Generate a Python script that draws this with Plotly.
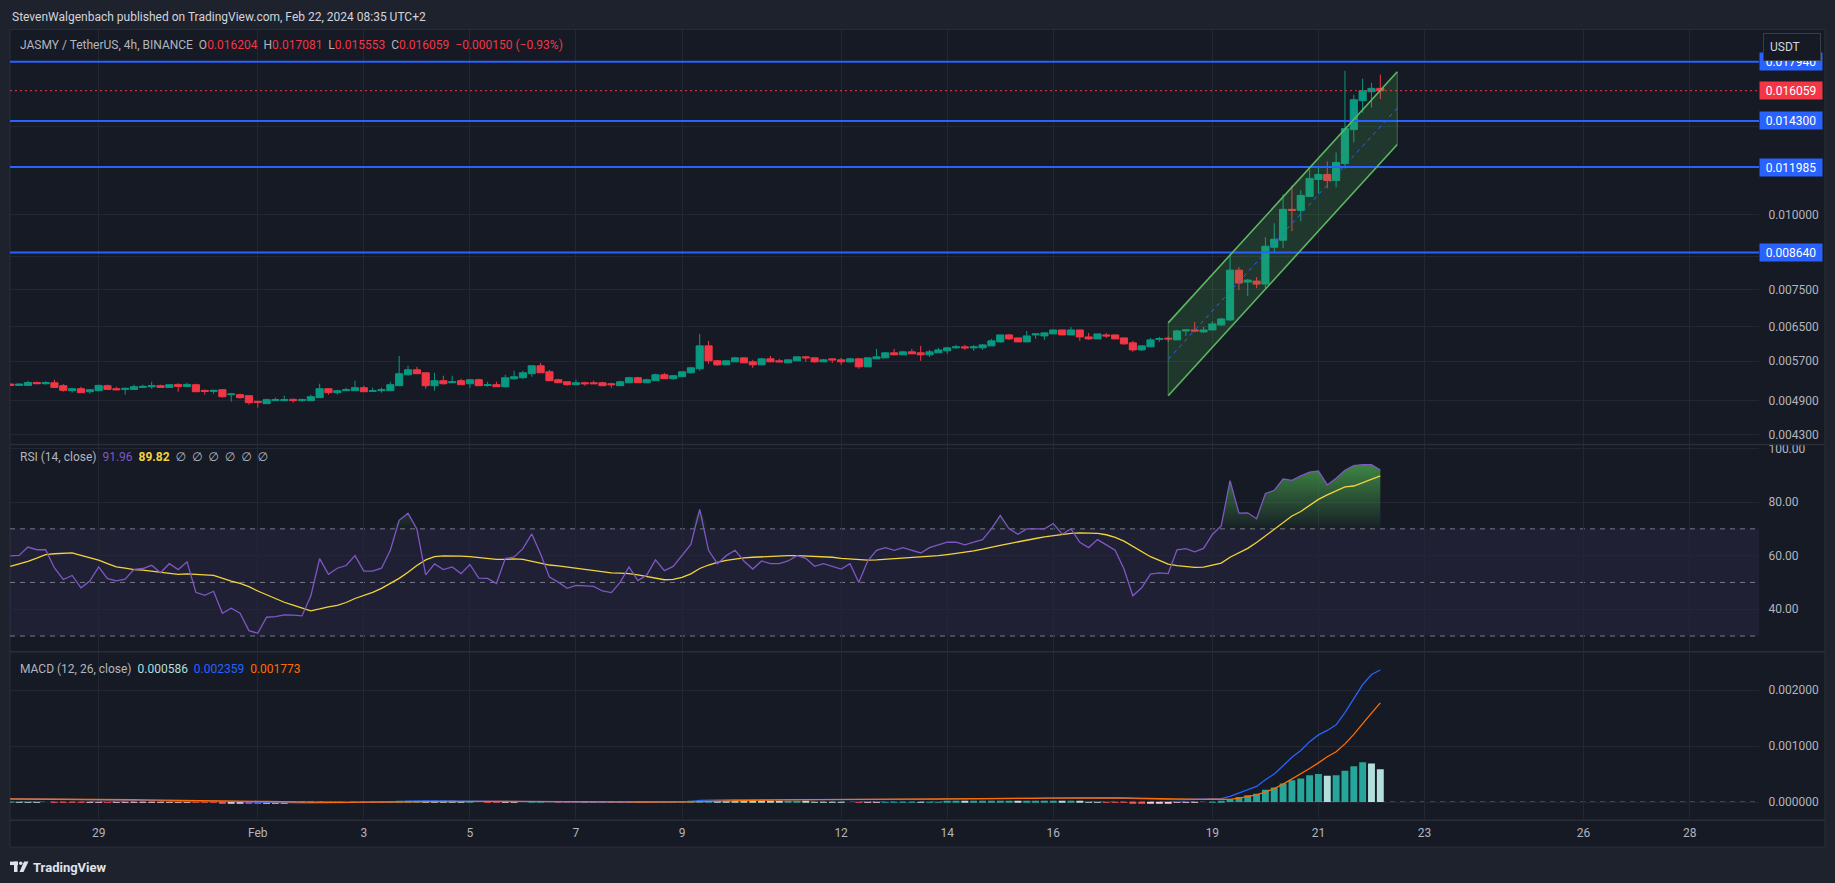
import numpy as np
import pandas as pd
import plotly.graph_objects as go

W, H = 1835, 883
FONT = "Roboto, 'Noto Sans', 'DejaVu Sans', sans-serif"
BG = "#161a25"
FRAME = "#1e222d"
GRID = "#232734"
TXT = "#b2b5be"
UP, DN = "#089981", "#f23645"

# ---------------- data ----------------
times = pd.date_range("2024-01-27 08:00", periods=156, freq="4h")

# prices in thousandths of a USDT
open_m = [5.219,5.192,5.192,5.251,5.225,5.245,5.186,5.088,5.127,5.068,
          5.088,5.186,5.127,5.113,5.113,5.152,5.166,5.186,5.152,5.212,
          5.172,5.206,5.094,5.074,5.107,5.011,5.011,4.992,4.884,4.841,
          4.897,4.897,4.922,4.897,4.897,4.954,5.127,5.049,5.088,5.088,
          5.146,5.074,5.088,5.088,5.186,5.408,5.512,5.449,5.186,5.286,
          5.245,5.286,5.225,5.306,5.192,5.206,5.166,5.326,5.347,5.429,
          5.597,5.470,5.306,5.265,5.206,5.245,5.245,5.245,5.225,5.186,
          5.245,5.347,5.245,5.286,5.408,5.326,5.367,5.449,5.533,6.041,
          5.705,5.618,5.683,5.770,5.683,5.618,5.748,5.705,5.661,5.705,
          5.792,5.770,5.683,5.748,5.726,5.683,5.748,5.575,5.748,5.770,
          5.882,5.837,5.904,5.882,5.837,5.882,5.927,5.995,6.018,5.995,
          5.995,6.041,6.134,6.300,6.228,6.134,6.300,6.276,6.325,6.421,
          6.300,6.421,6.252,6.205,6.300,6.300,6.228,6.111,5.949,6.018,
          6.193,6.220,6.181,6.397,6.421,6.373,6.421,6.546,6.671,8.075,
          7.713,7.743,7.655,8.816,9.055,10.193,10.154,10.711,11.430,11.650,
          11.386,12.150,13.834,15.454,15.995,16.204]
high_m = [5.225,5.231,5.286,5.265,5.272,5.306,5.219,5.146,5.166,5.121,
          5.206,5.206,5.166,5.146,5.206,5.206,5.265,5.206,5.206,5.231,
          5.245,5.225,5.107,5.107,5.107,5.036,5.030,4.992,4.897,4.935,
          4.954,4.992,4.935,4.935,5.011,5.225,5.127,5.107,5.146,5.286,
          5.186,5.146,5.146,5.265,5.814,5.597,5.575,5.449,5.449,5.388,
          5.388,5.326,5.306,5.326,5.265,5.265,5.408,5.491,5.491,5.597,
          5.661,5.512,5.326,5.265,5.306,5.265,5.286,5.265,5.245,5.286,
          5.367,5.367,5.326,5.429,5.449,5.408,5.470,5.575,6.325,6.158,
          5.726,5.705,5.792,5.770,5.726,5.770,5.814,5.748,5.726,5.792,
          5.814,5.770,5.748,5.748,5.770,5.770,5.770,5.770,5.972,5.904,
          5.972,5.927,5.972,6.041,5.949,5.995,6.018,6.064,6.064,6.064,
          6.088,6.205,6.300,6.325,6.228,6.397,6.325,6.373,6.421,6.421,
          6.495,6.421,6.349,6.325,6.349,6.300,6.228,6.158,6.041,6.228,
          6.252,6.258,6.421,6.421,6.621,6.495,6.646,6.722,8.518,8.168,
          7.802,7.862,9.159,9.662,10.794,11.171,10.960,11.875,11.966,12.243,
          12.671,17.330,15.813,16.809,16.554,17.081]
low_m = [5.186,5.186,5.192,5.219,5.206,5.152,5.068,5.049,5.049,5.030,
         5.074,5.113,5.094,5.011,5.113,5.152,5.127,5.152,5.152,5.068,
         5.172,5.068,5.011,5.030,4.954,4.878,4.935,4.823,4.768,4.841,
         4.897,4.897,4.860,4.878,4.897,4.954,5.011,5.011,5.088,5.088,
         5.068,5.068,5.049,5.088,5.186,5.388,5.429,5.127,5.088,5.206,
         5.245,5.206,5.146,5.186,5.166,5.166,5.146,5.306,5.326,5.367,
         5.449,5.286,5.245,5.186,5.206,5.186,5.225,5.186,5.146,5.186,
         5.245,5.245,5.245,5.286,5.326,5.306,5.367,5.429,5.491,5.640,
         5.597,5.618,5.683,5.661,5.554,5.618,5.683,5.683,5.661,5.705,
         5.683,5.661,5.683,5.661,5.618,5.661,5.533,5.575,5.748,5.770,
         5.837,5.837,5.859,5.705,5.792,5.882,5.859,5.972,5.949,5.927,
         5.949,6.041,6.111,6.181,6.134,6.134,6.205,6.181,6.325,6.300,
         6.300,6.158,6.181,6.205,6.228,6.205,6.064,5.904,5.927,6.018,
         6.134,6.140,6.181,6.276,6.373,6.349,6.421,6.521,6.646,7.481,
         7.312,7.538,7.538,8.649,8.782,9.371,9.736,10.711,10.835,11.044,
         11.086,11.920,13.165,14.762,15.047,15.553]
close_m = [5.192,5.219,5.251,5.225,5.251,5.152,5.094,5.127,5.049,5.107,
           5.192,5.113,5.107,5.133,5.166,5.172,5.186,5.152,5.206,5.172,
           5.212,5.068,5.074,5.094,4.972,5.024,4.954,4.860,4.865,4.916,
           4.916,4.916,4.897,4.916,4.972,5.127,5.049,5.088,5.107,5.146,
           5.068,5.088,5.107,5.206,5.429,5.512,5.429,5.186,5.286,5.225,
           5.265,5.206,5.306,5.186,5.206,5.166,5.347,5.367,5.449,5.597,
           5.449,5.286,5.245,5.206,5.245,5.225,5.225,5.186,5.206,5.265,
           5.347,5.245,5.306,5.408,5.326,5.388,5.470,5.554,6.041,5.705,
           5.618,5.705,5.770,5.661,5.618,5.748,5.683,5.683,5.726,5.792,
           5.770,5.683,5.726,5.726,5.683,5.748,5.575,5.770,5.792,5.882,
           5.837,5.904,5.859,5.837,5.904,5.949,5.995,6.018,5.995,6.018,
           6.064,6.158,6.300,6.205,6.134,6.276,6.325,6.349,6.421,6.300,
           6.421,6.252,6.205,6.325,6.276,6.205,6.088,5.949,6.041,6.181,
           6.212,6.205,6.397,6.421,6.397,6.421,6.571,6.697,8.075,7.684,
           7.772,7.655,8.850,9.090,10.193,10.154,10.752,11.474,11.650,11.386,
           12.197,13.887,15.513,16.056,16.204,16.059]

rsi = [59.9,60.1,63.2,62.2,62.2,55.4,51.1,52.6,48.0,50.5,
       55.8,51.4,50.6,51.2,54.9,55.2,56.4,53.6,57.0,54.8,
       57.7,46.3,45.2,46.7,38.5,40.4,38.5,32.0,31.0,37.0,
       37.2,37.9,37.8,37.5,44.9,58.9,53.0,55.3,56.3,60.0,
       54.2,54.2,55.3,62.0,73.2,75.8,70.0,52.8,56.9,54.8,
       55.8,53.3,56.7,51.6,51.5,49.6,58.9,59.5,62.6,68.1,
       60.6,52.0,50.1,47.8,48.9,48.8,48.5,46.8,46.2,50.0,
       55.8,50.7,52.7,58.4,54.4,56.0,60.1,64.2,77.3,62.0,
       57.0,60.0,62.0,58.0,55.0,58.0,57.0,57.0,58.0,60.0,
       59.0,56.0,57.0,56.0,55.0,57.0,50.0,58.0,62.0,63.0,
       62.0,63.0,62.0,61.0,63.0,64.0,65.0,65.0,64.0,65.0,
       66.0,70.0,75.0,70.0,68.0,70.0,70.0,70.0,72.0,68.0,
       70.0,65.0,63.0,66.0,64.0,62.0,55.0,45.0,48.0,53.1,
       53.6,53.3,62.2,62.6,61.4,62.7,67.9,71.1,88.0,75.9,
       76.0,73.8,83.2,84.4,88.6,88.1,89.8,91.2,91.6,86.4,
       88.9,91.9,93.6,94.0,94.0,91.96]
rsi_ma = [56.0,56.9,57.9,59.1,60.4,60.7,60.9,61.0,60.1,59.1,
          58.3,57.0,55.8,55.3,54.8,54.6,54.2,53.6,53.2,53.0,
          53.2,53.1,52.8,52.6,51.5,50.5,49.6,48.4,46.8,45.3,
          43.8,42.6,41.5,40.4,39.4,40.1,40.9,41.4,42.5,44.0,
          45.1,46.3,47.8,49.5,51.5,53.8,56.3,58.4,59.6,59.9,
          59.9,59.8,59.6,59.3,58.9,58.6,58.6,58.8,58.6,57.9,
          57.2,56.5,56.2,55.8,55.4,54.9,54.4,54.0,53.6,53.5,
          53.3,52.8,52.2,51.7,51.0,51.1,51.9,53.2,55.2,56.5,
          57.5,58.2,58.8,59.2,59.4,59.6,59.8,60.0,60.0,60.0,
          59.9,59.8,59.6,59.4,59.0,58.8,58.4,58.3,58.4,58.6,
          58.8,59.0,59.2,59.4,59.7,60.0,60.4,60.8,61.2,61.8,
          62.4,63.0,63.8,64.5,65.2,65.8,66.4,67.0,67.5,68.0,
          68.3,68.5,68.5,68.3,67.8,66.8,65.4,63.5,61.5,59.6,
          58.2,56.8,56.3,56.0,55.6,55.7,56.5,57.2,59.4,60.9,
          62.7,64.9,67.4,69.9,72.6,74.8,76.5,78.8,81.0,82.7,
          84.3,85.7,86.0,87.3,88.5,89.82]

# MACD values in millionths of a USDT
macd_u = [60,58,57,56,55,52,48,45,42,40,
          40,38,36,34,33,32,32,31,31,31,
          31,26,22,19,14,11,8,3,-2,-5,
          -8,-10,-12,-14,-14,-10,-9,-8,-7,-5,
          -5,-4,-4,-2,8,18,24,22,22,21,
          20,18,18,15,13,10,11,12,14,19,
          19,15,11,7,5,3,1,-1,-3,-3,
          -1,-2,-1,1,1,2,5,9,30,36,
          38,40,43,44,44,45,45,45,46,47,
          47,46,45,44,43,42,38,38,39,42,
          44,46,47,47,48,50,52,54,55,56,
          58,62,68,71,72,75,77,80,83,84,
          86,84,82,80,77,73,66,56,50,48,
          46,44,45,46,47,50,56,62,100,160,
          220,280,400,500,650,800,920,1080,1200,1280,
          1380,1600,1850,2100,2280,2359]
signal_u = [55,55,55,55,55,55,54,53,52,50,
            48,47,45,43,42,40,39,38,37,36,
            35,34,33,31,28,25,22,18,14,10,
            6,3,0,-3,-5,-6,-7,-7,-7,-7,
            -7,-6,-6,-5,-2,2,6,9,11,13,
            14,15,15,15,15,14,14,14,14,15,
            15,15,14,13,12,10,8,6,4,3,
            2,1,0,0,0,1,1,2,8,13,
            18,22,26,30,32,34,36,38,39,40,
            41,42,42,42,42,42,41,41,40,40,
            41,41,42,43,44,45,46,47,49,50,
            52,54,57,60,62,65,67,70,72,75,
            77,78,79,79,79,78,76,72,68,64,
            60,57,54,52,50,50,51,53,50,70,
            100,130,180,240,320,410,500,600,700,810,
            900,1040,1210,1390,1590,1773]
hist_u = [5,3,2,1,0,-3,-6,-8,-10,-10,
          -8,-9,-9,-9,-9,-8,-7,-7,-6,-5,
          -4,-8,-11,-12,-14,-14,-14,-15,-16,-15,
          -14,-13,-12,-11,-9,-4,-2,-1,0,2,
          2,2,2,3,10,16,18,13,11,8,
          6,3,3,0,-2,-4,-3,-2,0,4,
          4,0,-3,-6,-7,-7,-7,-7,-7,-6,
          -3,-3,-1,1,1,1,4,7,22,23,
          20,18,17,14,12,11,9,7,7,7,
          6,4,3,2,1,0,-3,-3,-1,2,
          3,5,5,4,4,5,6,7,6,6,
          6,8,11,11,10,10,10,10,11,9,
          9,6,3,1,-2,-5,-10,-16,-18,-16,
          -14,-13,-9,-6,-3,0,5,9,50,90,
          120,150,220,260,330,390,420,480,500,470,
          480,560,640,710,690,586]

levels = [0.017940, 0.014300, 0.011985, 0.008640]
last_close = 0.016059
chan_t = ["2024-02-18 04:00", "2024-02-22 11:40"]
chan_upper = [0.006597, 0.017264]
chan_lower = [0.004991, 0.013064]
chan_mid = [0.005738, 0.015018]

price_ticks = [0.0043, 0.0049, 0.0057, 0.0065, 0.0075, 0.0085, 0.0100, 0.0140]
price_labels = ["0.004300", "0.004900", "0.005700", "0.006500", "0.007500", "", "0.010000", ""]
rsi_ticks = [40, 60, 80, 100]
macd_ticks = [0.0, 0.001, 0.002]
date_ticks = ["2024-01-29", "2024-02-01", "2024-02-03", "2024-02-05", "2024-02-07",
              "2024-02-09", "2024-02-12", "2024-02-14", "2024-02-16", "2024-02-19",
              "2024-02-21", "2024-02-23", "2024-02-26", "2024-02-28"]
date_text = ["29", "Feb", "3", "5", "7", "9", "12", "14", "16", "19", "21", "23", "26", "28"]

# ---------------- derived ----------------
o = np.array(open_m) / 1000
h = np.array(high_m) / 1000
l = np.array(low_m) / 1000
c = np.array(close_m) / 1000
macd = np.array(macd_u) / 1e6
signal = np.array(signal_u) / 1e6
hist = np.array(hist_u) / 1e6
rsi_arr = np.array(rsi)

hist_col = []
for i, v in enumerate(hist):
    prev = hist[i - 1] if i else v
    if v >= 0:
        hist_col.append("#26a69a" if v >= prev else "#b2dfdb")
    else:
        hist_col.append("#ffcdd2" if v >= prev else "#ff5252")

def px(x):
    return x / W

def py(y):
    return 1 - y / H

X_RANGE = ["2024-01-27 07:53", "2024-02-29 07:22"]
XDOM = [px(10), px(1759)]

fig = go.Figure()

# channel fill
fig.add_trace(go.Scatter(
    x=[chan_t[0], chan_t[1], chan_t[1], chan_t[0], chan_t[0]],
    y=[chan_upper[0], chan_upper[1], chan_lower[1], chan_lower[0], chan_upper[0]],
    fill="toself", fillcolor="rgba(76,175,80,0.2)", mode="lines",
    line=dict(color="rgba(0,0,0,0)", width=0), xaxis="x", yaxis="y", hoverinfo="skip"))

# horizontal levels
for v in levels:
    fig.add_trace(go.Scatter(x=X_RANGE, y=[v, v], mode="lines",
                             line=dict(color="#2962ff", width=2), xaxis="x", yaxis="y",
                             hoverinfo="skip"))
fig.add_trace(go.Scatter(x=X_RANGE, y=[last_close, last_close], mode="lines",
                         line=dict(color=DN, width=1, dash="2px,3px"), xaxis="x", yaxis="y",
                         hoverinfo="skip"))

fig.add_trace(go.Candlestick(
    x=times, open=o, high=h, low=l, close=c,
    increasing=dict(line=dict(color=UP, width=1), fillcolor=UP),
    decreasing=dict(line=dict(color=DN, width=1), fillcolor=DN),
    whiskerwidth=0, xaxis="x", yaxis="y", hoverinfo="skip"))

# channel lines
for ys in (chan_upper, chan_lower):
    fig.add_trace(go.Scatter(x=chan_t, y=ys, mode="lines",
                             line=dict(color="#5cb860", width=1.6), xaxis="x", yaxis="y",
                             hoverinfo="skip"))
for k in (0, 1):
    fig.add_trace(go.Scatter(x=[chan_t[k], chan_t[k]], y=[chan_lower[k], chan_upper[k]],
                             mode="lines", line=dict(color="rgba(92,184,96,0.5)", width=1),
                             xaxis="x", yaxis="y", hoverinfo="skip"))
fig.add_trace(go.Scatter(x=chan_t, y=chan_mid, mode="lines",
                         line=dict(color="#2962ff", width=1, dash="4px,4px"),
                         xaxis="x", yaxis="y", hoverinfo="skip"))

# RSI pane
fig.add_trace(go.Scatter(x=times, y=[70] * len(times), mode="lines",
                         line=dict(width=0, color="rgba(0,0,0,0)"),
                         xaxis="x2", yaxis="y2", hoverinfo="skip"))
fig.add_trace(go.Scatter(x=times, y=np.maximum(rsi_arr, 70), mode="lines",
                         line=dict(width=0, color="rgba(0,0,0,0)"), fill="tonexty",
                         fillgradient=dict(type="vertical", start=70, stop=100,
                                           colorscale=[[0, "rgba(76,175,80,0.03)"],
                                                       [1, "rgba(76,175,80,0.9)"]]),
                         xaxis="x2", yaxis="y2", hoverinfo="skip"))
fig.add_trace(go.Scatter(x=times, y=rsi_ma, mode="lines",
                         line=dict(color="#f2d43a", width=1.3), xaxis="x2", yaxis="y2",
                         hoverinfo="skip"))
fig.add_trace(go.Scatter(x=times, y=rsi, mode="lines",
                         line=dict(color="#7e57c2", width=1.3), xaxis="x2", yaxis="y2",
                         hoverinfo="skip"))

# MACD pane
fig.add_trace(go.Bar(x=times, y=hist, marker=dict(color=hist_col, line=dict(width=0)),
                     xaxis="x3", yaxis="y3", hoverinfo="skip"))
fig.add_trace(go.Scatter(x=times, y=macd, mode="lines", line=dict(color="#2962ff", width=1.3),
                         xaxis="x3", yaxis="y3", hoverinfo="skip"))
fig.add_trace(go.Scatter(x=times, y=signal, mode="lines", line=dict(color="#ff6d00", width=1.3),
                         xaxis="x3", yaxis="y3", hoverinfo="skip"))

xcommon = dict(type="date", range=X_RANGE, domain=XDOM, showgrid=True, gridcolor=GRID,
               gridwidth=1, tickvals=date_ticks, ticktext=date_text, zeroline=False,
               showline=False, fixedrange=True)
ycommon = dict(side="right", showgrid=True, gridcolor=GRID, zeroline=False, showline=False,
               ticks="outside", ticklen=6, tickcolor="rgba(0,0,0,0)",
               tickfont=dict(family=FONT, size=12, color=TXT), fixedrange=True)

fig.update_layout(
    width=W, height=H, margin=dict(l=0, r=0, t=0, b=0),
    paper_bgcolor=FRAME, plot_bgcolor="rgba(0,0,0,0)",
    showlegend=False, boxgap=0.1, boxgroupgap=0.1, bargap=0.22,
    font=dict(family=FONT, color=TXT, size=12),
    xaxis=dict(xcommon, anchor="y", showticklabels=False),
    xaxis2=dict(xcommon, anchor="y2", matches="x", showticklabels=False),
    xaxis3=dict(xcommon, anchor="y3", matches="x", showticklabels=True, ticks="outside",
                ticklen=1, tickcolor="rgba(0,0,0,0)",
                tickfont=dict(family=FONT, size=12, color=TXT)),
    yaxis=dict(ycommon, type="log", anchor="x",
               range=[np.log10(0.004140), np.log10(0.02027)],
               domain=[py(443), py(27)], tickvals=price_ticks, ticktext=price_labels),
    yaxis2=dict(ycommon, anchor="x2", range=[24.1, 101.5], domain=[py(651), py(443)],
                tickvals=rsi_ticks, ticktext=[f"{v:.2f}" for v in rsi_ticks]),
    yaxis3=dict(ycommon, anchor="x3", range=[-0.000324, 0.002685], domain=[py(820), py(651)],
                tickvals=macd_ticks, ticktext=[f"{v:.6f}" for v in macd_ticks]),
)
fig.update_xaxes(rangeslider_visible=False)

shapes = [
    dict(type="rect", xref="paper", yref="paper", x0=px(10), x1=px(1825), y0=py(847),
         y1=py(26.5), fillcolor=BG, line=dict(color="#2a2e39", width=1), layer="below"),
    dict(type="rect", xref="paper", yref="y2", x0=XDOM[0], x1=XDOM[1], y0=30, y1=70,
         fillcolor="rgba(126,87,194,0.10)", line=dict(width=0), layer="below"),
]
for v in (70, 50, 30):
    shapes.append(dict(type="line", xref="paper", yref="y2", x0=XDOM[0], x1=px(1756),
                       y0=v, y1=v, line=dict(color="#787b86", width=1, dash="5px,5px"),
                       layer="below"))
shapes.append(dict(type="line", xref="paper", yref="y3", x0=XDOM[0], x1=px(1756), y0=0, y1=0,
                   line=dict(color="#787b86", width=1, dash="5px,5px"), layer="below"))
for yy in (443, 651, 820):
    shapes.append(dict(type="line", xref="paper", yref="paper", x0=px(10), x1=px(1825),
                       y0=py(yy), y1=py(yy), line=dict(color="#2a2e39", width=1.5)))
# TradingView logo mark
shapes += [
    dict(type="rect", xref="paper", yref="paper", x0=px(10), x1=px(18), y0=py(865), y1=py(861.5),
         fillcolor="#e0e3eb", line=dict(width=0)),
    dict(type="rect", xref="paper", yref="paper", x0=px(14), x1=px(17.5), y0=py(872), y1=py(861.5),
         fillcolor="#e0e3eb", line=dict(width=0)),
    dict(type="circle", xref="paper", yref="paper", x0=px(19), x1=px(22.5), y0=py(865), y1=py(861.5),
         fillcolor="#e0e3eb", line=dict(width=0)),
    dict(type="path", xref="paper", yref="paper",
         path=f"M {px(24)} {py(861.5)} L {px(28.5)} {py(861.5)} L {px(23.5)} {py(872)} L {px(19.5)} {py(872)} Z",
         fillcolor="#e0e3eb", line=dict(width=0)),
]
fig.update_layout(shapes=shapes)

ann = []
sp = "\u00a0\u00a0"
def red(s):
    return f"<span style='color:{DN}'>{s}</span>"
ann.append(dict(xref="paper", yref="paper", x=px(10), y=py(14), xanchor="left", yanchor="middle",
                text="StevenWalgenbach published on TradingView.com, Feb 22, 2024 08:35 UTC+2",
                font=dict(family=FONT, size=12, color="#d1d4dc"), showarrow=False))
ann.append(dict(xref="paper", yref="paper", x=px(18), y=py(42), xanchor="left", yanchor="middle",
                text=("JASMY / TetherUS, 4h, BINANCE" + sp + "O" + red("0.016204") + sp + "H" +
                      red("0.017081") + sp + "L" + red("0.015553") + sp + "C" + red("0.016059") +
                      sp + red("\u22120.000150 (\u22120.93%)")),
                font=dict(family=FONT, size=12, color=TXT), showarrow=False))
ann.append(dict(xref="paper", yref="paper", x=px(18), y=py(456), xanchor="left", yanchor="middle",
                text=("RSI (14, close)" + sp + "<span style='color:#7e57c2'>91.96</span>" + sp +
                      "<span style='color:#f2d43a'><b>89.82</b></span>" + sp +
                      "\u2205\u00a0\u00a0\u2205\u00a0\u00a0\u2205\u00a0\u00a0\u2205\u00a0\u00a0\u2205\u00a0\u00a0\u2205"),
                font=dict(family=FONT, size=12, color=TXT), showarrow=False))
ann.append(dict(xref="paper", yref="paper", x=px(18), y=py(668), xanchor="left", yanchor="middle",
                text=("MACD (12, 26, close)" + sp + "<span style='color:#b2dfdb'>0.000586</span>" + sp +
                      "<span style='color:#2962ff'>0.002359</span>" + sp +
                      "<span style='color:#ff6d00'>0.001773</span>"),
                font=dict(family=FONT, size=12, color=TXT), showarrow=False))
for v, col in [(0.008640, "#2962ff"), (0.011985, "#2962ff"), (0.014300, "#2962ff"),
               (0.017940, "#2962ff"), (last_close, DN)]:
    ann.append(dict(xref="paper", yref="y", x=px(1759), y=np.log10(v), xanchor="left",
                    yanchor="middle", text=f"{v:.6f}", bgcolor=col, borderpad=2, width=58,
                    height=13, font=dict(family=FONT, size=12, color="#ffffff"),
                    showarrow=False, align="center"))
ann.append(dict(xref="paper", yref="paper", x=px(1763), y=py(44.5), xanchor="left", yanchor="middle",
                text="\u00a0USDT", bgcolor=BG, bordercolor="#3a3e4a", borderwidth=1, borderpad=3,
                width=50, height=20, align="left",
                font=dict(family=FONT, size=12, color="#d1d4dc"), showarrow=False))
ann.append(dict(xref="paper", yref="paper", x=px(31), y=py(867), xanchor="left", yanchor="middle",
                text="<b>TradingView</b>", font=dict(family=FONT, size=13, color="#e0e3eb"),
                showarrow=False))
fig.update_layout(annotations=ann)

fig.write_html("out.html", config={"displayModeBar": False},
               post_script="document.body.style.margin='0';document.body.style.overflow='hidden';")
